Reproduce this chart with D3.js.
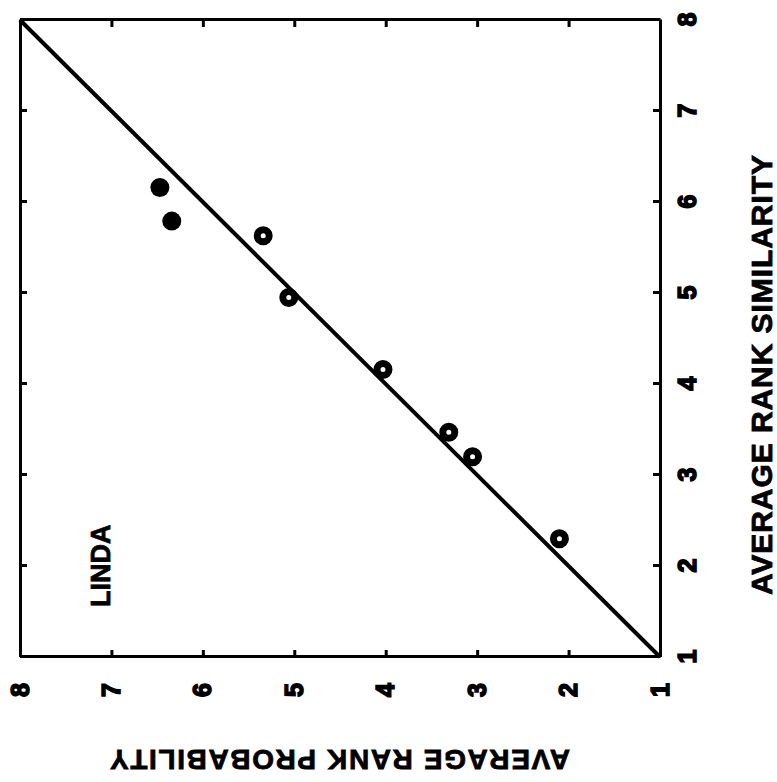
<!DOCTYPE html>
<html>
<head>
<meta charset="utf-8">
<script src="https://cdn.jsdelivr.net/npm/d3@7"></script>
<style>
  body { margin: 0; background: #fff; }
  svg { display: block; }
  text { font-family: "Liberation Sans", Arial, sans-serif; font-weight: bold; fill: #000; stroke: #000; stroke-width: 0.8px; }
  .axis path, .axis line { stroke: #000; stroke-width: 3; }
  .axis text { font-size: 25px; font-weight: bold; stroke-width: 1.6px; }
</style>
</head>
<body>
<svg width="777" height="782"></svg>
<script>
// chart values
var similarity  = [6.16, 5.79, 5.63, 4.95, 4.16, 3.47, 3.20, 2.30];
var probability = [6.47, 6.34, 5.34, 5.06, 4.03, 3.31, 3.05, 2.10];
var filled      = [true, true, false, false, false, false, false, false];
var ticks = [1, 2, 3, 4, 5, 6, 7, 8];
var xTitle = "AVERAGE  RANK  SIMILARITY";
var yTitle = "AVERAGE  RANK  PROBABILITY";
var panelLabel = "LINDA";

var svg = d3.select("svg");

// plot size in the unrotated frame
var w = 637, h = 640;

// the scan is turned a quarter turn: draw the chart upright, then rotate the group
var g = svg.append("g")
  .attr("transform", "translate(20,657) rotate(-90)");

var x = d3.scaleLinear().domain([1, 8]).range([0, w]);
var y = d3.scaleLinear().domain([1, 8]).range([h, 0]);
var fmt = d3.format("d");

// bottom axis with labels (ends up on the right side)
g.append("g")
  .attr("class", "axis")
  .attr("transform", "translate(0," + h + ")")
  .call(d3.axisBottom(x).tickValues(ticks).tickFormat(fmt)
    .tickSizeInner(-7).tickSizeOuter(0).tickPadding(18));

// left axis with labels (ends up along the bottom)
g.append("g")
  .attr("class", "axis")
  .call(d3.axisLeft(y).tickValues(ticks).tickFormat(fmt)
    .tickSizeInner(-7).tickSizeOuter(0).tickPadding(26));

// top and right: ticks only
g.append("g")
  .attr("class", "axis")
  .call(d3.axisTop(x).tickValues(ticks).tickSizeInner(-7).tickSizeOuter(0).tickFormat(""));

g.append("g")
  .attr("class", "axis")
  .attr("transform", "translate(" + w + ",0)")
  .call(d3.axisRight(y).tickValues(ticks).tickSizeInner(-7).tickSizeOuter(0).tickFormat(""));

// identity line
g.append("line")
  .attr("x1", x(1)).attr("y1", y(1))
  .attr("x2", x(8)).attr("y2", y(8))
  .attr("stroke", "#000")
  .attr("stroke-width", 4);

// points: solid dots and thick rings
var pts = d3.range(similarity.length);
g.selectAll("circle.pt")
  .data(pts)
  .enter().append("circle")
  .attr("class", "pt")
  .attr("cx", function (i) { return x(similarity[i]); })
  .attr("cy", function (i) { return y(probability[i]); })
  .attr("r", function (i) { return filled[i] ? 9.5 : 6; })
  .attr("fill", function (i) { return filled[i] ? "#000" : "#fff"; })
  .attr("stroke", "#000")
  .attr("stroke-width", function (i) { return filled[i] ? 0 : 7; });

// axis titles
g.append("text")
  .attr("x", 282)
  .attr("y", h + 112)
  .attr("text-anchor", "middle")
  .style("font-size", "30px")
  .attr("textLength", 440)
  .attr("lengthAdjust", "spacing")
  .text(xTitle);

g.append("text")
  .attr("transform", "translate(-93," + (h / 2) + ") rotate(-90)")
  .attr("text-anchor", "middle")
  .style("font-size", "28px")
  .attr("textLength", 460)
  .attr("lengthAdjust", "spacing")
  .text(yTitle);

// panel label
g.append("text")
  .attr("x", 50)
  .attr("y", 90)
  .style("font-size", "27px")
  .text(panelLabel);
</script>
</body>
</html>
